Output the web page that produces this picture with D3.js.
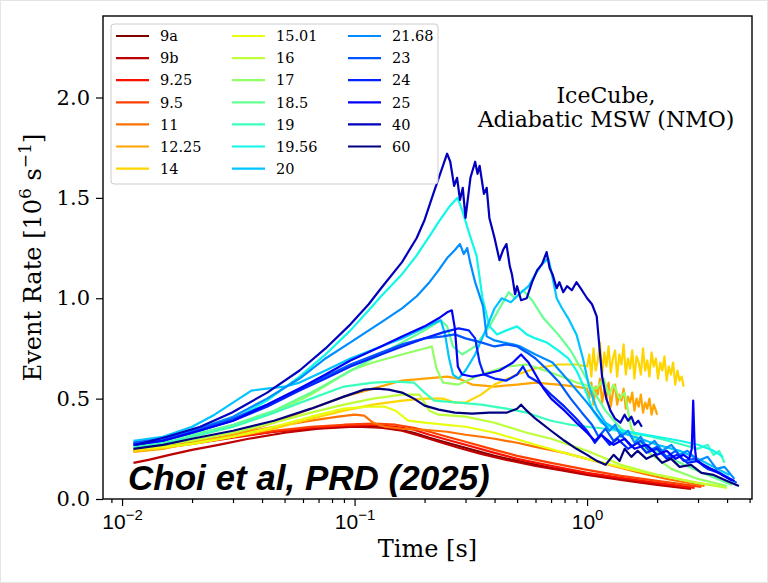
<!DOCTYPE html>
<html>
<head>
<meta charset="utf-8">
<script src="https://cdn.jsdelivr.net/npm/d3@7"></script>
<style>
  body { margin: 0; background: #fff; }
  svg { display: block; }
</style>
</head>
<body>
<div id="graph"></div>
<script>
// model labels, same order as the legend
var models = ["9a","9b","9.25","9.5","11","12.25","14","15.01","16","17",
              "18.5","19","19.56","20","21.68","23","24","25","40","60"];

// each series: [time (s), event rate (10^6 / s)]
var s9a = [[0.0112,0.245],[0.0145,0.26],[0.02,0.285],[0.03,0.31],[0.045,0.335],[0.065,0.35],[0.09,0.36],[0.12,0.36],[0.15,0.35],[0.18,0.33],[0.21,0.305],[0.25,0.28],[0.3,0.255],[0.4,0.215],[0.5,0.19],[0.7,0.155],[1.0,0.125],[1.4,0.1],[2.0,0.075],[2.7,0.055]];
var s9b = [[0.0112,0.18],[0.013,0.195],[0.016,0.22],[0.02,0.245],[0.026,0.27],[0.035,0.3],[0.05,0.33],[0.07,0.35],[0.1,0.36],[0.13,0.355],[0.16,0.34],[0.19,0.315],[0.23,0.285],[0.28,0.255],[0.35,0.225],[0.45,0.195],[0.6,0.165],[0.8,0.14],[1.0,0.12],[1.5,0.09],[2.0,0.07],[2.8,0.05]];
var s925 = [[0.0112,0.24],[0.015,0.255],[0.02,0.275],[0.03,0.305],[0.045,0.335],[0.065,0.355],[0.09,0.365],[0.12,0.37],[0.15,0.36],[0.18,0.345],[0.21,0.32],[0.25,0.295],[0.3,0.27],[0.4,0.23],[0.5,0.2],[0.7,0.165],[1.0,0.13],[1.4,0.105],[2.0,0.08],[2.9,0.055]];
var s95 = [[0.0112,0.245],[0.015,0.26],[0.02,0.28],[0.03,0.31],[0.045,0.34],[0.065,0.36],[0.09,0.37],[0.12,0.375],[0.15,0.37],[0.18,0.355],[0.21,0.335],[0.25,0.31],[0.3,0.285],[0.4,0.245],[0.5,0.215],[0.7,0.18],[1.0,0.145],[1.4,0.115],[2.0,0.09],[3.1,0.06]];
var s11 = [[0.0112,0.25],[0.015,0.265],[0.02,0.285],[0.03,0.32],[0.045,0.36],[0.065,0.39],[0.085,0.41],[0.1,0.42],[0.11,0.415],[0.12,0.38],[0.135,0.36],[0.16,0.35],[0.2,0.345],[0.25,0.335],[0.3,0.32],[0.35,0.31],[0.4,0.3],[0.5,0.28],[0.6,0.26],[0.8,0.23],[1.0,0.2],[1.3,0.165],[1.7,0.13],[2.2,0.1],[3.2,0.065]];

// late noisy stretch of 12.25 and 14 (shared time stamps)
var tNoisy = [1.0,1.022,1.043,1.066,1.089,1.112,1.136,1.161,1.186,1.211,1.237,1.264,1.291,1.319,1.347,1.376,1.406,1.436,1.467,1.499,1.531,1.564,1.598,1.632,1.667,1.703,1.74,1.777,1.815,1.854,1.894,1.935,1.977,2.019,2.063,2.107,2.152,2.199,2.246,2.294,2.344,2.394,2.446,2.498,2.552,2.6];
var v14Noisy = [0.66,0.72,0.61,0.75,0.64,0.69,0.78,0.62,0.73,0.66,0.76,0.63,0.7,0.74,0.61,0.72,0.67,0.77,0.62,0.7,0.65,0.74,0.6,0.71,0.68,0.62,0.75,0.64,0.69,0.61,0.73,0.66,0.7,0.6,0.68,0.64,0.71,0.59,0.66,0.62,0.68,0.57,0.64,0.59,0.61,0.56];
var v1225Noisy = [0.55,0.5,0.58,0.47,0.56,0.52,0.6,0.48,0.55,0.5,0.58,0.46,0.53,0.57,0.47,0.52,0.49,0.55,0.45,0.51,0.48,0.53,0.44,0.5,0.46,0.52,0.43,0.48,0.45,0.5,0.42,0.47,0.44];

var s1225 = [[0.0112,0.235],[0.015,0.25],[0.02,0.28],[0.03,0.32],[0.045,0.38],[0.065,0.45],[0.09,0.51],[0.12,0.55],[0.16,0.59],[0.2,0.6],[0.25,0.61],[0.28,0.6],[0.32,0.57],[0.4,0.56],[0.5,0.57],[0.6,0.58],[0.75,0.57],[0.9,0.56]]
  .concat(v1225Noisy.map(function(v, i) { return [tNoisy[i], v]; }))
  .concat([[2.0,0.42]]);
var s14 = [[0.0112,0.24],[0.015,0.255],[0.02,0.275],[0.03,0.31],[0.045,0.35],[0.065,0.4],[0.09,0.44],[0.12,0.47],[0.16,0.49],[0.2,0.5],[0.24,0.5],[0.27,0.48],[0.3,0.48],[0.35,0.52],[0.4,0.57],[0.5,0.62],[0.6,0.65],[0.75,0.67],[0.9,0.67]]
  .concat(v14Noisy.map(function(v, i) { return [tNoisy[i], v]; }));

var s1501 = [[0.0112,0.25],[0.015,0.26],[0.02,0.275],[0.03,0.31],[0.045,0.36],[0.065,0.41],[0.09,0.45],[0.115,0.46],[0.135,0.46],[0.15,0.44],[0.17,0.39],[0.2,0.38],[0.3,0.36],[0.4,0.33],[0.6,0.27],[0.8,0.23],[1.0,0.2],[1.5,0.15],[2.0,0.12],[3.0,0.08],[3.9,0.06]];
var s16 = [[0.0112,0.26],[0.015,0.27],[0.02,0.29],[0.03,0.33],[0.045,0.38],[0.065,0.43],[0.09,0.47],[0.12,0.5],[0.16,0.52],[0.19,0.52],[0.21,0.44],[0.23,0.42],[0.3,0.41],[0.4,0.38],[0.55,0.33],[0.7,0.3],[1.0,0.24],[1.4,0.17],[2.0,0.12],[3.0,0.08],[4.0,0.055]];
var s17 = [[0.0112,0.26],[0.015,0.28],[0.02,0.31],[0.03,0.36],[0.045,0.43],[0.065,0.52],[0.096,0.64],[0.12,0.68],[0.16,0.72],[0.2,0.75],[0.215,0.76],[0.225,0.65],[0.24,0.58],[0.28,0.57],[0.35,0.62],[0.45,0.66],[0.55,0.67],[0.7,0.63],[0.9,0.58],[1.1,0.55],[1.18,0.6],[1.24,0.52],[1.3,0.57],[1.38,0.5],[1.45,0.53],[1.55,0.35],[1.8,0.24],[2.3,0.15],[3.0,0.1],[4.0,0.065]];
var s185 = [[0.0112,0.27],[0.015,0.29],[0.02,0.32],[0.03,0.37],[0.045,0.44],[0.065,0.53],[0.09,0.62],[0.12,0.7],[0.16,0.78],[0.2,0.84],[0.235,0.89],[0.25,0.86],[0.265,0.76],[0.29,0.72],[0.33,0.76],[0.38,0.86],[0.43,0.97],[0.46,1.03],[0.49,1.0],[0.53,1.04],[0.58,0.99],[0.65,0.9],[0.75,0.82],[0.85,0.74],[0.95,0.64],[1.05,0.55],[1.2,0.44],[1.4,0.35],[1.7,0.28],[2.2,0.21],[3.0,0.14],[4.2,0.07]];
var s19 = [[0.0112,0.26],[0.015,0.28],[0.02,0.31],[0.03,0.36],[0.045,0.43],[0.065,0.5],[0.09,0.56],[0.12,0.58],[0.15,0.585],[0.18,0.58],[0.2,0.53],[0.22,0.49],[0.28,0.48],[0.35,0.47],[0.45,0.45],[0.55,0.43],[0.7,0.39],[0.85,0.37],[1.0,0.36],[1.2,0.35],[1.5,0.33],[1.9,0.31],[2.4,0.28],[3.0,0.25],[3.3,0.27],[3.5,0.22],[3.7,0.24],[3.9,0.18]];
var s1956 = [[0.0112,0.28],[0.0156,0.3],[0.0217,0.34],[0.0296,0.39],[0.042,0.49],[0.058,0.61],[0.075,0.72],[0.096,0.84],[0.115,0.94],[0.13,1.01],[0.16,1.12],[0.184,1.21],[0.21,1.31],[0.23,1.38],[0.257,1.46],[0.277,1.5],[0.29,1.44],[0.31,1.33],[0.335,1.21],[0.355,1.0],[0.38,0.86],[0.41,0.82],[0.45,0.84],[0.5,0.86],[0.55,0.82],[0.6,0.8],[0.67,0.78],[0.75,0.74],[0.83,0.7],[0.9,0.64],[0.95,0.58],[1.0,0.52],[1.06,0.44],[1.15,0.38],[1.3,0.35],[1.6,0.33],[2.0,0.31],[2.5,0.29],[3.0,0.27],[3.5,0.24],[3.85,0.21]];
var s20 = [[0.0112,0.29],[0.015,0.31],[0.02,0.36],[0.025,0.42],[0.03,0.48],[0.036,0.54],[0.042,0.55],[0.05,0.56],[0.058,0.58],[0.075,0.64],[0.096,0.7],[0.13,0.76],[0.16,0.8],[0.19,0.84],[0.215,0.87],[0.235,0.89],[0.245,0.82],[0.255,0.7],[0.265,0.62],[0.28,0.6],[0.3,0.64],[0.33,0.72],[0.36,0.82],[0.4,0.95],[0.43,1.0],[0.47,0.98],[0.51,1.02],[0.56,1.06],[0.6,1.12],[0.64,1.17],[0.68,1.2],[0.7,1.14],[0.74,1.0],[0.78,0.95],[0.83,0.9],[0.9,0.82],[0.96,0.7],[1.02,0.56],[1.1,0.45],[1.2,0.38],[1.4,0.33],[1.7,0.3],[2.0,0.27],[2.5,0.24],[3.0,0.2],[3.5,0.16],[4.1,0.12]];
var s2168 = [[0.0112,0.28],[0.015,0.3],[0.02,0.34],[0.03,0.41],[0.042,0.5],[0.058,0.6],[0.075,0.7],[0.096,0.78],[0.13,0.88],[0.16,0.95],[0.185,1.01],[0.21,1.08],[0.23,1.14],[0.25,1.2],[0.27,1.24],[0.284,1.27],[0.295,1.22],[0.305,1.25],[0.314,1.18],[0.33,1.08],[0.357,0.96],[0.37,0.81],[0.4,0.79],[0.435,0.78],[0.48,0.77],[0.515,0.76],[0.6,0.72],[0.71,0.68],[0.845,0.58],[1.0,0.48],[1.17,0.38],
  [1.25,0.34],[1.32,0.37],[1.4,0.31],[1.5,0.34],[1.6,0.28],[1.7,0.31],[1.8,0.26],[1.95,0.29],[2.1,0.24],[2.3,0.27],[2.5,0.22],[2.7,0.24],[3.0,0.19],[3.3,0.21],[3.6,0.15],[3.9,0.16],[4.3,0.1]];
var s23 = [[0.0112,0.28],[0.015,0.3],[0.02,0.34],[0.03,0.4],[0.042,0.47],[0.058,0.55],[0.075,0.61],[0.096,0.67],[0.13,0.73],[0.16,0.77],[0.2,0.8],[0.24,0.81],[0.27,0.82],[0.3,0.8],[0.35,0.78],[0.4,0.76],[0.45,0.77],[0.5,0.76],[0.55,0.73],[0.6,0.7],[0.68,0.64],[0.76,0.58],[0.85,0.5],[0.95,0.43],[1.05,0.37],
  [1.12,0.31],[1.2,0.35],[1.3,0.29],[1.4,0.32],[1.55,0.26],[1.7,0.29],[1.85,0.24],[2.0,0.26],[2.2,0.21],[2.4,0.24],[2.6,0.19],[2.9,0.2],[3.2,0.16],[3.6,0.14],[4.0,0.11],[4.4,0.08]];
var s24 = [[0.0112,0.27],[0.015,0.29],[0.02,0.33],[0.03,0.39],[0.042,0.46],[0.058,0.54],[0.075,0.6],[0.096,0.66],[0.13,0.72],[0.16,0.76],[0.2,0.8],[0.24,0.83],[0.28,0.85],[0.31,0.84],[0.33,0.8],[0.345,0.68],[0.36,0.62],[0.4,0.6],[0.45,0.59],[0.5,0.62],[0.53,0.66],[0.56,0.61],[0.62,0.58],[0.7,0.52],[0.8,0.46],[0.9,0.4],[1.0,0.34],
  [1.08,0.28],[1.15,0.32],[1.25,0.27],[1.35,0.3],[1.5,0.25],[1.65,0.28],[1.8,0.23],[2.0,0.25],[2.2,0.2],[2.45,0.22],[2.7,0.18],[3.0,0.19],[3.3,0.15],[3.7,0.13],[4.2,0.09]];
var s25 = [[0.0112,0.27],[0.015,0.29],[0.02,0.33],[0.03,0.39],[0.042,0.47],[0.058,0.55],[0.075,0.62],[0.096,0.69],[0.13,0.76],[0.16,0.81],[0.2,0.86],[0.23,0.9],[0.25,0.93],[0.262,0.94],[0.27,0.85],[0.278,0.66],[0.29,0.62],[0.32,0.61],[0.36,0.62],[0.42,0.64],[0.48,0.68],[0.52,0.72],[0.56,0.68],[0.6,0.62],[0.65,0.55],[0.7,0.5],[0.8,0.44],[0.9,0.38],[1.0,0.33],[1.08,0.29],[1.15,0.32],[1.3,0.27],[1.45,0.3],[1.6,0.25],[1.8,0.27],[2.0,0.22],[2.2,0.24],[2.4,0.2],[2.6,0.22],[2.75,0.2],[2.82,0.25],[2.86,0.49],[2.9,0.27],[2.95,0.19],[3.3,0.16],[3.8,0.12],[4.3,0.09]];
var s40 = [[0.0115,0.27],[0.0156,0.31],[0.0217,0.36],[0.0296,0.43],[0.0421,0.53],[0.058,0.64],[0.075,0.75],[0.096,0.87],[0.115,0.97],[0.13,1.05],[0.16,1.18],[0.185,1.3],[0.2,1.39],[0.218,1.52],[0.235,1.63],[0.25,1.72],[0.258,1.68],[0.268,1.56],[0.276,1.6],[0.284,1.49],[0.292,1.55],[0.3,1.4],[0.315,1.6],[0.33,1.68],[0.338,1.62],[0.345,1.66],[0.36,1.52],[0.37,1.55],[0.38,1.4],[0.4,1.3],[0.42,1.19],[0.435,1.24],[0.45,1.27],[0.465,1.16],[0.475,1.12],[0.49,1.02],[0.5,1.06],[0.52,0.99],[0.55,1.0],[0.58,1.08],[0.61,1.14],[0.64,1.17],[0.67,1.23],[0.69,1.15],[0.71,1.12],[0.74,1.05],[0.76,1.08],[0.79,1.03],[0.82,1.06],[0.86,1.04],[0.9,1.08],[0.95,1.04],[1.0,1.0],[1.05,0.97],[1.1,0.91],[1.16,0.61],[1.21,0.5],[1.26,0.44],[1.32,0.4],[1.39,0.38],[1.45,0.42],[1.5,0.39],[1.55,0.41],[1.6,0.37],[1.66,0.39],[1.72,0.36]];
var s60 = [[0.0112,0.25],[0.015,0.27],[0.02,0.3],[0.03,0.34],[0.045,0.39],[0.065,0.45],[0.09,0.51],[0.11,0.545],[0.125,0.55],[0.14,0.545],[0.16,0.53],[0.18,0.5],[0.2,0.465],[0.23,0.445],[0.27,0.43],[0.32,0.425],[0.38,0.43],[0.45,0.43],[0.5,0.45],[0.52,0.47],[0.55,0.44],[0.6,0.4],[0.7,0.34],[0.8,0.29],[0.9,0.25],[1.0,0.22],
  [1.1,0.19],[1.2,0.17],[1.3,0.22],[1.38,0.19],[1.45,0.25],[1.55,0.21],[1.65,0.24],[1.8,0.2],[1.95,0.22],[2.1,0.18],[2.3,0.2],[2.5,0.16],[2.8,0.17],[3.1,0.13],[3.5,0.12],[4.0,0.09],[4.5,0.065]];

var series = [s9a, s9b, s925, s95, s11, s1225, s14, s1501, s16, s17,
              s185, s19, s1956, s20, s2168, s23, s24, s25, s40, s60];

var yTicks = [0, 0.5, 1.0, 1.5, 2.0];
var yTickLabels = ["0.0", "0.5", "1.0", "1.5", "2.0"];
var xTicks = [0.01, 0.1, 1];
var xTickExp = ["\u22122", "\u22121", "0"];

// Set margins
var W = 768, H = 583;
var margin = {top: 16, right: 16, bottom: 84, left: 103},
    width = W - margin.left - margin.right,
    height = H - margin.top - margin.bottom;

// matplotlib "jet" colormap, reversed over the legend order
var jetR = d3.scaleLinear().domain([0, 0.35, 0.66, 0.89, 1]).range([0, 0, 1, 1, 0.5]).clamp(true);
var jetG = d3.scaleLinear().domain([0, 0.125, 0.375, 0.64, 0.91, 1]).range([0, 0, 1, 1, 0, 0]).clamp(true);
var jetB = d3.scaleLinear().domain([0, 0.11, 0.34, 0.65, 1]).range([0.5, 1, 1, 0, 0]).clamp(true);
function jet(t) { return d3.rgb(jetR(t) * 255, jetG(t) * 255, jetB(t) * 255).formatHex(); }
function colorOf(i) { return jet(1 - i / (models.length - 1)); }

// Set ranges
var x = d3.scaleLog().domain([0.00828, 5.12]).range([0, width]);
var y = d3.scaleLinear().domain([0, 2.406]).range([height, 0]);

var valueLine = d3.line()
    .x(function(d) { return x(d[0]); })
    .y(function(d) { return y(d[1]); });

var svgRoot = d3.select("#graph").append("svg")
    .attr("width", W).attr("height", H)
    .style("font-family", "'DejaVu Serif', serif");

// faint screenshot border
svgRoot.append("rect")
    .attr("x", 0.5).attr("y", 0.5).attr("width", W - 1).attr("height", H - 1)
    .attr("fill", "#fff").attr("stroke", "#e4e4e4");

var svg = svgRoot.append("g")
    .attr("transform", "translate(" + margin.left + "," + margin.top + ")");

svg.append("clipPath").attr("id", "plotclip")
  .append("rect").attr("width", width).attr("height", height);

// Draw lines
svg.append("g").attr("clip-path", "url(#plotclip)")
  .selectAll("path")
  .data(series)
  .enter().append("path")
    .attr("d", valueLine)
    .attr("fill", "none")
    .attr("stroke", function(d, i) { return colorOf(i); })
    .attr("stroke-width", 2.2)
    .attr("stroke-linejoin", "round");

// minor ticks for log axis
var minorTicks = [];
[0.001, 0.01, 0.1, 1].forEach(function(dec) {
  for (var k = 2; k <= 9; k++) {
    var v = dec * k;
    if (v >= x.domain()[0] && v <= x.domain()[1]) minorTicks.push(v);
  }
});

var xMinor = svg.append("g")
    .attr("transform", "translate(0," + height + ")")
    .call(d3.axisBottom(x).tickValues(minorTicks).tickSize(4).tickFormat(""));

var xaxis = svg.append("g")
    .attr("transform", "translate(0," + height + ")")
    .call(d3.axisBottom(x).tickValues(xTicks).tickSize(7).tickFormat(""));

xaxis.selectAll(".tick").append("text")
    .attr("y", 30)
    .attr("fill", "#000")
    .attr("text-anchor", "middle")
    .style("font-size", "21px")
    .each(function(d, i) {
      var t = d3.select(this);
      t.append("tspan").text("10");
      t.append("tspan").attr("dy", -9).style("font-size", "15px").text(xTickExp[i]);
    });

var yaxis = svg.append("g")
    .call(d3.axisLeft(y).tickValues(yTicks).tickSize(7).tickPadding(6)
      .tickFormat(function(d, i) { return yTickLabels[i]; }));
yaxis.selectAll("text").style("font-size", "21px").attr("fill", "#000")
    .style("font-family", "'DejaVu Serif', serif");

[xMinor, xaxis, yaxis].forEach(function(a) {
  a.select(".domain").remove();
  a.selectAll("line").attr("stroke", "#000").attr("stroke-width", 1.2);
});

// frame
svg.append("rect")
    .attr("width", width).attr("height", height)
    .attr("fill", "none").attr("stroke", "#000").attr("stroke-width", 1.4);

// axis labels
svg.append("text")
    .attr("x", width / 2).attr("y", height + 58)
    .attr("text-anchor", "middle")
    .style("font-size", "24px")
    .text("Time [s]");

var ylab = svg.append("text")
    .attr("transform", "translate(" + (-62) + "," + (height / 2) + ") rotate(-90)")
    .attr("text-anchor", "middle")
    .style("font-size", "24px");
ylab.append("tspan").text("Event Rate [10");
ylab.append("tspan").attr("dy", -10).style("font-size", "17px").text("6");
ylab.append("tspan").attr("dy", 10).text(" s");
ylab.append("tspan").attr("dy", -10).style("font-size", "17px").text("\u22121");
ylab.append("tspan").attr("dy", 10).text("]");

// annotation in upper right
svg.append("text")
    .attr("x", 606 - margin.left).attr("y", 103 - margin.top)
    .attr("text-anchor", "middle").style("font-size", "22px")
    .text("IceCube,");
svg.append("text")
    .attr("x", 606 - margin.left).attr("y", 127 - margin.top)
    .attr("text-anchor", "middle").style("font-size", "22px")
    .text("Adiabatic MSW (NMO)");

// legend
var leg = svg.append("g").attr("transform", "translate(8,8)");
leg.append("rect")
    .attr("width", 327).attr("height", 160).attr("rx", 3)
    .attr("fill", "#fff").attr("fill-opacity", 0.85)
    .attr("stroke", "#cccccc").attr("stroke-width", 1);

var items = leg.selectAll("g.item")
    .data(models)
    .enter().append("g")
    .attr("transform", function(d, i) {
      var col = Math.floor(i / 7), row = i % 7;
      return "translate(" + (5 + col * 116) + "," + (12 + row * 22.1) + ")";
    });
items.append("line")
    .attr("x1", 0).attr("x2", 33)
    .attr("stroke", function(d, i) { return colorOf(i); })
    .attr("stroke-width", 2.2);
items.append("text")
    .attr("x", 44).attr("dy", "0.36em")
    .style("font-size", "14.5px")
    .text(function(d) { return d; });

// citation overlay
svgRoot.append("text")
    .attr("x", 128).attr("y", 490)
    .style("font-family", "'Liberation Sans', Arial, sans-serif")
    .style("font-weight", "bold").style("font-style", "italic")
    .style("font-size", "35px")
    .text("Choi et al, PRD (2025)");
</script>
</body>
</html>
